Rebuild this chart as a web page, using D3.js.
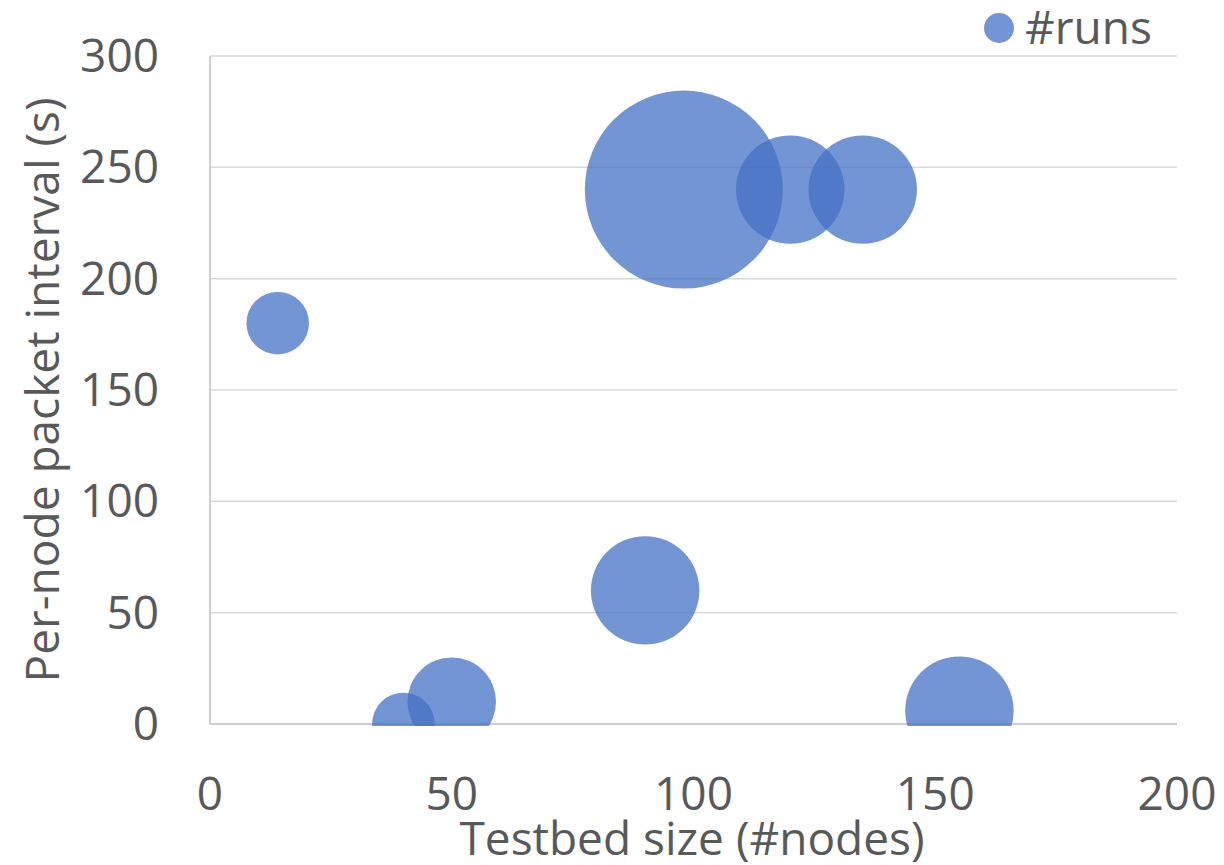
<!DOCTYPE html>
<html>
<head>
<meta charset="utf-8">
<script src="https://cdn.jsdelivr.net/npm/d3@7"></script>
<style>
  html, body { margin: 0; padding: 0; background: #fff; }
  svg { display: block; }
  text { font-family: "Open Sans", sans-serif; fill: #595959; }
</style>
</head>
<body>
<svg id="chart" width="1224" height="865"></svg>
<script>
// Data
const seriesName = "#runs";
const testbedSize = [14, 40, 50, 90, 98, 120, 135, 155];
const packetInterval = [180, 0, 10, 60, 240, 240, 240, 6];
const runs = [1, 1, 2, 3, 10, 3, 3, 3];
const xTicks = [0, 50, 100, 150, 200];
const yTicks = [0, 50, 100, 150, 200, 250, 300];
const xTitle = "Testbed size (#nodes)";
const yTitle = "Per-node packet interval (s)";

const svg = d3.select("#chart");
const m = { left: 210, right: 1177, top: 56, bottom: 724 };

const x = d3.scaleLinear().domain([0, 200]).range([m.left, m.right]);
const y = d3.scaleLinear().domain([0, 300]).range([m.bottom, m.top]);
const r = d3.scaleSqrt().domain([0, 10]).range([0, 99]);

// gridlines
svg.append("g").selectAll("line").data(yTicks.filter(d => d > 0)).join("line")
  .attr("x1", m.left).attr("x2", m.right)
  .attr("y1", d => y(d)).attr("y2", d => y(d))
  .attr("stroke", "#D9D9D9").attr("stroke-width", 1.5);

// axis lines
svg.append("line").attr("x1", m.left).attr("x2", m.left)
  .attr("y1", m.top).attr("y2", m.bottom)
  .attr("stroke", "#BFBFBF").attr("stroke-width", 1.5);
svg.append("line").attr("x1", m.left).attr("x2", m.right)
  .attr("y1", m.bottom).attr("y2", m.bottom)
  .attr("stroke", "#BFBFBF").attr("stroke-width", 1.5);

// clip
svg.append("defs").append("clipPath").attr("id", "plotclip")
  .append("rect").attr("x", m.left).attr("y", m.top - 60)
  .attr("width", m.right - m.left).attr("height", m.bottom - m.top + 62);

const pts = testbedSize.map((d, i) => ({ x: d, y: packetInterval[i], s: runs[i] }));
svg.append("g").attr("clip-path", "url(#plotclip)")
  .selectAll("circle").data(pts).join("circle")
  .attr("cx", d => x(d.x)).attr("cy", d => y(d.y)).attr("r", d => r(d.s))
  .attr("fill", "#4472C4").attr("fill-opacity", 0.75);

// tick labels
svg.append("g").selectAll("text").data(yTicks).join("text")
  .attr("x", 159).attr("y", d => y(d) + 16)
  .attr("text-anchor", "end").attr("font-size", 46)
  .text(d => d);
svg.append("g").selectAll("text").data(xTicks).join("text")
  .attr("x", d => x(d)).attr("y", 810)
  .attr("text-anchor", "middle").attr("font-size", 46)
  .text(d => d);

// axis titles
svg.append("text").attr("x", 692).attr("y", 855)
  .attr("text-anchor", "middle").attr("font-size", 46).text(xTitle);
svg.append("text").attr("transform", "translate(59,390) rotate(-90)")
  .attr("text-anchor", "middle").attr("font-size", 46).text(yTitle);

// legend
svg.append("circle").attr("cx", 999).attr("cy", 28).attr("r", 15)
  .attr("fill", "#4472C4").attr("fill-opacity", 0.75);
svg.append("text").attr("x", 1025).attr("y", 44).attr("font-size", 46).text(seriesName);
</script>
</body>
</html>
